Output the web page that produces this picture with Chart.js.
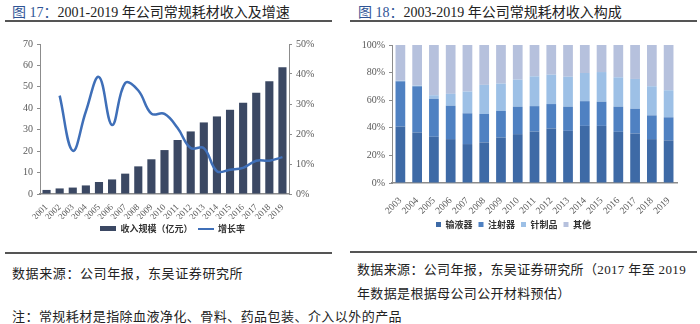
<!DOCTYPE html>
<html><head><meta charset="utf-8">
<script src="https://cdn.jsdelivr.net/npm/chart.js@4/dist/chart.umd.min.js"></script>
<style>
html,body{margin:0;padding:0;background:#fff;width:700px;height:324px;overflow:hidden;position:relative;font-family:"Liberation Serif","Noto Sans CJK SC",serif;}
.t{position:absolute;white-space:nowrap;color:#222;}
.title{font-size:14px;top:1px;}
.title b{font-weight:normal;color:#2f5496;}
.rule{position:absolute;height:2px;background:#555;}
.src{font-size:13px;color:#222;}
.cv{position:absolute;}
</style></head><body>
<div class="t title" style="left:12px;"><b>图 17：</b>2001-2019 年公司常规耗材收入及增速</div>
<div class="t title" style="left:358px;"><b>图 18：</b>2003-2019 年公司常规耗材收入构成</div>
<div class="rule" style="left:5px;width:327px;top:20px;"></div>
<div class="rule" style="left:350px;width:347px;top:20px;"></div>
<div class="rule" style="left:5px;width:327px;top:252px;"></div>
<div class="rule" style="left:350px;width:347px;top:251px;"></div>
<div class="cv" style="left:0;top:30px;width:345px;height:213px;"><canvas id="c1"></canvas></div>
<div class="cv" style="left:350px;top:30px;width:350px;height:209px;"><canvas id="c2"></canvas></div>
<div class="t src" style="left:12px;top:263px;letter-spacing:0.6px;">数据来源：公司年报，东吴证券研究所</div>
<div class="t src" style="left:357px;top:259px;letter-spacing:0.35px;">数据来源：公司年报，东吴证券研究所（2017 年至 2019</div>
<div class="t src" style="left:357px;top:283px;letter-spacing:0.35px;">年数据是根据母公司公开材料预估）</div>
<div class="t src" style="left:12px;top:306px;letter-spacing:0.45px;">注：常规耗材是指除血液净化、骨料、药品包装、介入以外的产品</div>
<script>
// ---- Chart 1 data ----
const years1 = ['2001','2002','2003','2004','2005','2006','2007','2008','2009','2010','2011','2012','2013','2014','2015','2016','2017','2018','2019'];
const revenue = [1.9,2.6,3.0,4.0,5.6,6.8,9.5,12.9,16.2,20.5,25.2,29.2,33.4,36.2,39.3,42.6,47.3,52.6,59.1];
const growth = [null,32.8,14.4,27.5,39.0,23.0,37.0,34.5,26.8,26.7,22.0,15.3,15.3,7.6,8.1,8.7,11.1,11.1,12.3];
const leftTicks = [0,10,20,30,40,50,60,70];
const rightTicks = [0,10,20,30,40,50];
// ---- Chart 2 data ----
const years2 = ['2003','2004','2005','2006','2007','2008','2009','2010','2011','2012','2013','2014','2015','2016','2017','2018','2019'];
const infusion = [40.9,36.6,33.5,31.8,28.2,29.4,33.0,35.4,37.3,39.5,37.8,41.4,41.4,37.1,35.9,31.8,30.9];
const syringe  = [32.8,33.5,27.5,24.2,22.3,20.6,19.2,19.9,18.4,17.7,17.5,17.9,17.5,18.2,17.9,17.2,16.7];
const needle   = [0.5,0.5,2.6,8.6,15.8,21.1,19.8,19.6,21.6,21.3,21.7,20.4,21.5,21.3,21.6,21.1,19.6];
const other    = [25.8,29.4,36.4,35.4,33.7,28.9,28.0,25.1,22.7,21.5,23.0,20.3,19.6,23.4,24.6,29.9,32.8];
const pctTicks = [0,20,40,60,80,100];

const serif = "'Liberation Serif', serif";
const cjk = "'Noto Sans CJK SC', sans-serif";
const tickColor = '#595959';
const axisColor = '#8c8c8c';

function swatch(w,h,color){const c=document.createElement('canvas');c.width=w;c.height=h;const x=c.getContext('2d');x.fillStyle=color;x.fillRect(0,0,w,h);return c;}

const barColor='#3b4863', lineColor='#3f6fb8';
new Chart(document.getElementById('c1'),{
  data:{labels:years1,datasets:[
    {type:'bar',label:'收入规模（亿元）',data:revenue,backgroundColor:barColor,yAxisID:'y',categoryPercentage:0.62,barPercentage:1,order:2},
    {type:'line',label:'增长率',data:growth,borderColor:lineColor,borderWidth:2.5,pointRadius:0,tension:0.4,yAxisID:'y1',order:1,spanGaps:false}
  ]},
  options:{responsive:true,maintainAspectRatio:false,animation:false,
    layout:{padding:{top:14,left:0,right:0,bottom:0}},
    plugins:{tooltip:{enabled:false},
      legend:{position:'bottom',labels:{font:{family:cjk,size:9,weight:'bold'},color:'#333',padding:5,usePointStyle:true,pointStyleWidth:16,
        generateLabels:(ch)=>[
          {text:'收入规模（亿元）',pointStyle:swatch(16,5,barColor),fillStyle:barColor,strokeStyle:barColor,lineWidth:0,datasetIndex:0,fontColor:'#333'},
          {text:'增长率',pointStyle:swatch(16,2,lineColor),fillStyle:lineColor,strokeStyle:lineColor,lineWidth:0,datasetIndex:1,fontColor:'#333'}
        ]}}},
    scales:{
      x:{grid:{display:false},border:{color:axisColor,width:1.5},
        ticks:{font:{family:serif,size:9},color:tickColor,minRotation:45,maxRotation:45,padding:0,autoSkip:false},
        afterFit:(s)=>{s.height=25;}},
      y:{position:'left',min:0,max:70,afterBuildTicks:(s)=>{s.ticks=leftTicks.map(v=>({value:v}));},
        grid:{drawOnChartArea:false,drawTicks:true,tickLength:3,color:axisColor},border:{color:axisColor,width:1},
        ticks:{font:{family:serif,size:10},color:tickColor,padding:4},
        afterFit:(s)=>{s.width=40;}},
      y1:{position:'right',min:0,max:50,afterBuildTicks:(s)=>{s.ticks=rightTicks.map(v=>({value:v}));},
        grid:{drawOnChartArea:false,drawTicks:true,tickLength:3,color:axisColor},border:{color:axisColor,width:1},
        ticks:{font:{family:serif,size:10},color:tickColor,padding:4,callback:(v)=>v+'%'},
        afterFit:(s)=>{s.width=56;}}
    }}
});

const cols=['#3e6aa6','#4f81c2','#9dc0e6','#b6c1dd'];
new Chart(document.getElementById('c2'),{
  type:'bar',
  data:{labels:years2,datasets:[
    {label:'输液器',data:infusion,backgroundColor:cols[0]},
    {label:'注射器',data:syringe,backgroundColor:cols[1]},
    {label:'针制品',data:needle,backgroundColor:cols[2]},
    {label:'其他',data:other,backgroundColor:cols[3]}
  ]},
  options:{responsive:true,maintainAspectRatio:false,animation:false,
    datasets:{bar:{categoryPercentage:0.58,barPercentage:1}},
    layout:{padding:{top:15,left:0,right:23,bottom:0}},
    plugins:{tooltip:{enabled:false},
      legend:{position:'bottom',labels:{font:{family:cjk,size:9,weight:'bold'},color:'#333',padding:6,boxWidth:5,boxHeight:5}}},
    scales:{
      x:{stacked:true,grid:{display:false},border:{color:axisColor,width:1.5},
        ticks:{font:{family:serif,size:9.5},color:tickColor,minRotation:45,maxRotation:45,padding:4,autoSkip:false},
        afterFit:(s)=>{s.height=31;}},
      y:{stacked:true,min:0,max:100,afterBuildTicks:(s)=>{s.ticks=pctTicks.map(v=>({value:v}));},
        grid:{drawOnChartArea:false,drawTicks:true,tickLength:3,color:axisColor},border:{color:axisColor,width:1},
        ticks:{font:{family:serif,size:10},color:tickColor,padding:4,callback:(v)=>v+'%'},
        afterFit:(s)=>{s.width=42;}}
    }}
});
</script>
</body></html>
